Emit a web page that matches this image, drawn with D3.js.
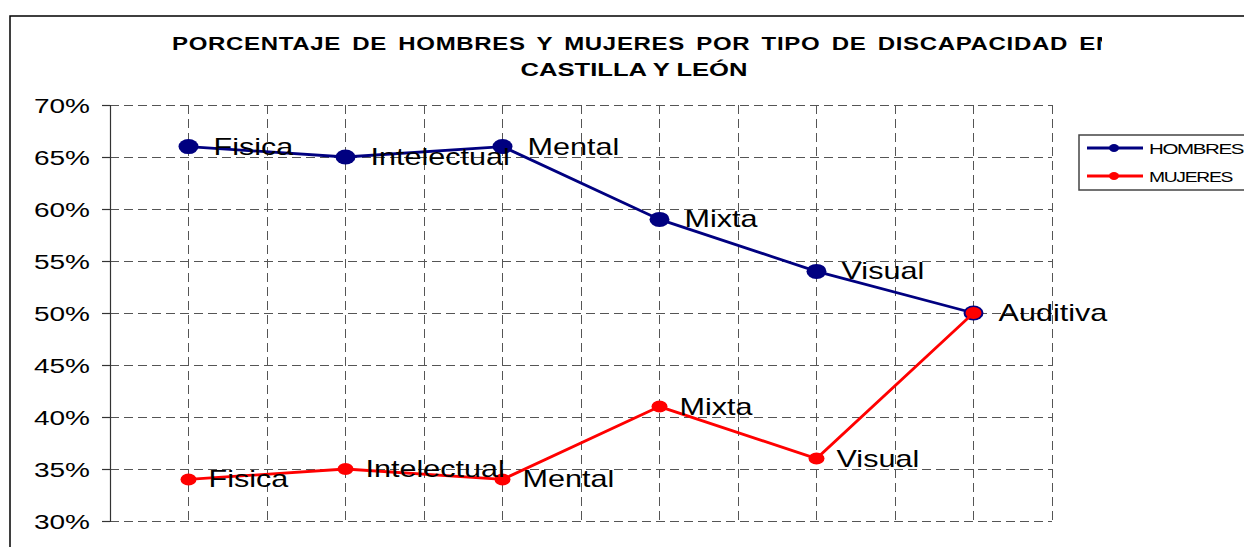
<!DOCTYPE html>
<html>
<head>
<meta charset="utf-8">
<script src="https://cdn.jsdelivr.net/npm/d3@7"></script>
<style>
  body { margin: 0; background: #fff; }
  svg { display: block; font-family: "Liberation Sans", Arial, sans-serif; }
</style>
</head>
<body>
<svg id="chart" width="1244" height="547"></svg>
<script>
// chart values
const categories = ['Fisica', 'Intelectual', 'Mental', 'Mixta', 'Visual', 'Auditiva'];
const hombres = [66, 65, 66, 59, 54, 50];
const mujeres = [34, 35, 34, 41, 36, 50];
const yTicks = [30, 35, 40, 45, 50, 55, 60, 65, 70];
const titleLines = ['PORCENTAJE DE HOMBRES Y MUJERES POR TIPO DE DISCAPACIDAD EN', 'CASTILLA Y LEÓN'];
const seriesNames = ['HOMBRES', 'MUJERES'];

const svg = d3.select('#chart');
const plot = { left: 110, right: 1052, top: 105, bottom: 521 };

const x = d3.scaleBand().domain(categories).range([plot.left, plot.right]);
const y = d3.scaleLinear().domain([30, 70]).range([plot.bottom, plot.top]);
const cx = (c) => x(c) + x.bandwidth() / 2;

// the original text is rendered wider than it is tall
function stretch(sel, sx) {
  sel.each(function () {
    const t = d3.select(this);
    const tx = +t.attr('x') || 0;
    const ty = +t.attr('y') || 0;
    t.attr('x', 0).attr('y', 0)
      .attr('transform', `translate(${tx},${ty}) scale(${sx},1)`);
  });
}

// outer frame (runs off the right and bottom edges)
svg.append('rect')
  .attr('x', 10).attr('y', 16)
  .attr('width', 1400).attr('height', 700)
  .attr('fill', 'none').attr('stroke', '#000').attr('stroke-width', 1.5);

// title, first line clipped like in the source
svg.append('clipPath').attr('id', 'titleClip')
  .append('rect').attr('x', 0).attr('y', 0).attr('width', 1102).attr('height', 100);

const title = svg.append('g').attr('clip-path', 'url(#titleClip)')
  .attr('font-weight', 'bold').attr('font-size', 18).attr('fill', '#000');
title.append('text')
  .attr('x', 172).attr('y', 50)
  .attr('letter-spacing', 0.5).attr('word-spacing', 3)
  .attr('textLength', 942).attr('lengthAdjust', 'spacingAndGlyphs')
  .text(titleLines[0]);
title.append('text')
  .attr('x', 634).attr('y', 76).attr('text-anchor', 'middle')
  .attr('textLength', 227).attr('lengthAdjust', 'spacingAndGlyphs')
  .text(titleLines[1]);

// grid
const grid = svg.append('g')
  .attr('stroke', '#555').attr('stroke-width', 1).attr('stroke-dasharray', '9,5')
  .attr('shape-rendering', 'crispEdges');

grid.selectAll('line.h').data(yTicks).join('line')
  .attr('class', 'h')
  .attr('x1', plot.left).attr('x2', plot.right)
  .attr('y1', (d) => y(d)).attr('y2', (d) => y(d));

const vPos = [];
categories.forEach((c) => { vPos.push(x(c) + x.bandwidth()); vPos.push(cx(c)); });
grid.selectAll('line.v').data(vPos).join('line')
  .attr('class', 'v')
  .attr('x1', (d) => d).attr('x2', (d) => d)
  .attr('y1', plot.top).attr('y2', plot.bottom);

// y axis
const yAxis = svg.append('g')
  .attr('transform', `translate(${plot.left},0)`)
  .call(d3.axisLeft(y).tickValues(yTicks).tickSize(8).tickPadding(12).tickFormat((d) => d + '%'));
yAxis.select('.domain').attr('stroke', '#333').attr('stroke-width', 1.2);
yAxis.selectAll('.tick line').attr('stroke', '#333').attr('stroke-width', 1.2);
yAxis.selectAll('.tick text')
  .attr('font-size', 20).attr('font-family', '"Liberation Sans", Arial, sans-serif')
  .attr('fill', '#000').attr('dy', '0.36em')
  .call(stretch, 1.4);

// series
const series = [
  { name: seriesNames[0], values: hombres, color: '#000080', rx: 10, ry: 7.5, off: 25 },
  { name: seriesNames[1], values: mujeres, color: '#ff0000', rx: 8, ry: 6, off: 20 }
];

const line = d3.line().x((d) => cx(d.c)).y((d) => y(d.v));

series.forEach((s) => {
  const pts = categories.map((c, i) => ({ c, v: s.values[i] }));
  const g = svg.append('g');
  g.append('path')
    .attr('d', line(pts))
    .attr('fill', 'none').attr('stroke', s.color).attr('stroke-width', 2.8);
  g.selectAll('ellipse').data(pts).join('ellipse')
    .attr('cx', (d) => cx(d.c)).attr('cy', (d) => y(d.v))
    .attr('rx', s.rx).attr('ry', s.ry)
    .attr('fill', s.color);
});

// data labels (shared point at Auditiva gets one label)
const labels = svg.append('g').attr('font-size', 23).attr('fill', '#000');
series.forEach((s, si) => {
  const pts = categories
    .map((c, i) => ({ c, v: s.values[i] }))
    .filter((d, i) => si === 0 || d.v !== hombres[i]);
  labels.selectAll(null).data(pts).join('text')
    .attr('x', (d) => cx(d.c) + s.off)
    .attr('y', (d) => y(d.v) + 8)
    .text((d) => d.c)
    .call(stretch, 1.33);
});

// legend (clipped at right edge)
const legend = svg.append('g');
legend.append('rect')
  .attr('x', 1079).attr('y', 135).attr('width', 200).attr('height', 55)
  .attr('fill', '#fff').attr('stroke', '#444').attr('stroke-width', 1.5);
series.forEach((s, i) => {
  const ly = 148 + i * 28;
  legend.append('line')
    .attr('x1', 1087).attr('x2', 1143).attr('y1', ly).attr('y2', ly)
    .attr('stroke', s.color).attr('stroke-width', 2.8);
  legend.append('ellipse')
    .attr('cx', 1114).attr('cy', ly).attr('rx', 5).attr('ry', 4)
    .attr('fill', s.color);
  legend.append('text')
    .attr('x', 1149).attr('y', ly + 5.5)
    .attr('font-size', 15).attr('fill', '#000')
    .attr('textLength', i === 0 ? 94 : 83).attr('lengthAdjust', 'spacingAndGlyphs')
    .attr('letter-spacing', -1)
    .text(s.name);
});
</script>
</body>
</html>
